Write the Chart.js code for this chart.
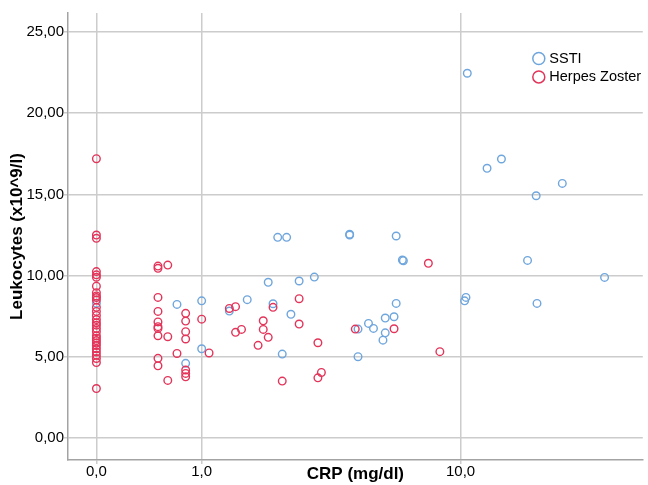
<!DOCTYPE html>
<html>
<head>
<meta charset="utf-8">
<script src="https://cdn.jsdelivr.net/npm/chart.js@4.4.1/dist/chart.umd.min.js"></script>
<style>
  html, body { margin: 0; padding: 0; background: #fff; }
  #scatter { display: block; }
</style>
</head>
<body>
<canvas id="scatter" width="648" height="485"></canvas>
<script>
// CRP (mg/dl) and leukocytes (x10^9/l)
const sstiCrp = [0, 0.7, 0.8, 1.0, 1.0, 1.4, 1.7, 2.1, 2.2, 2.3, 2.5, 2.4, 2.6, 2.8, 3.2,
  4.3, 4.3, 6.2, 6.5, 6.55, 10.4, 10.3, 6.2, 5.7, 6.1, 5.0, 5.2, 4.6, 5.7, 5.6, 4.6,
  10.5, 12.1, 13.4, 17.1, 20.5, 16.1, 17.2, 27.4];
const sstiLeuko = [8.3, 8.23, 4.6, 8.45, 5.5, 7.82, 8.52, 9.59, 8.27, 12.36, 12.36, 5.17, 7.62, 9.67, 9.91,
  12.55, 12.5, 12.44, 10.96, 10.92, 8.66, 8.45, 8.29, 7.39, 7.47, 7.06, 6.75, 6.71, 6.48, 6.03, 5.01,
  22.46, 16.61, 17.18, 14.92, 15.68, 10.94, 8.29, 9.89];

const hzCrp = [0, 0, 0, 0, 0, 0, 0, 0, 0, 0, 0, 0, 0, 0, 0,
  0, 0, 0, 0, 0, 0, 0, 0, 0, 0, 0, 0, 0, 0, 0,
  0.5, 0.5, 0.5, 0.5, 0.5, 0.5, 0.5, 0.5, 0.5, 0.5,
  0.6, 0.6, 0.6, 0.7,
  0.8, 0.8, 0.8, 0.8, 0.8, 0.8, 0.8,
  1.0, 1.1, 1.4, 1.5, 1.5, 1.6, 1.9, 2.0, 2.0, 2.1, 2.2, 2.4, 2.8, 2.8,
  3.3, 3.3, 3.4, 4.5, 6.1, 7.9, 8.6];
const hzLeuko = [17.2, 12.5, 12.3, 10.25, 10.05, 9.9, 9.35, 8.95, 8.75, 8.65, 8.5, 8.05, 7.8, 7.55, 7.3,
  7.1, 6.95, 6.75, 6.55, 6.3, 6.15, 6.0, 5.85, 5.7, 5.5, 5.3, 5.1, 4.9, 4.65, 3.05,
  10.59, 10.45, 8.66, 7.8, 7.15, 6.86, 6.75, 6.3, 4.91, 4.45,
  10.65, 6.24, 3.55, 5.21,
  7.68, 7.2, 6.55, 6.1, 4.19, 3.98, 3.77,
  7.32, 5.24, 7.98, 8.09, 6.51, 6.69, 5.71, 7.22, 6.69, 6.2, 8.05, 3.51, 8.58, 7.02,
  5.87, 3.71, 4.04, 6.71, 6.73, 10.76, 5.32];

const seriesNames = ['SSTI', 'Herpes Zoster'];
const seriesColors = ['#6fa6dd', '#e3345a'];

const xTickValues = [0, 1, 10];
const xTickLabels = ['0,0', '1,0', '10,0'];
const yTickValues = [0, 5, 10, 15, 20, 25];

Chart.defaults.font.family = "'Liberation Sans', Arial, sans-serif";

// x axis is log10(CRP + 1), so 0 can sit on it; min/max stay in CRP units
class Log1pScale extends Chart.LinearScale {
  configure() {
    super.configure();
    this._startValue = Math.log10(this.min + 1);
    this._endValue = Math.log10(this.max + 1);
    this._valueRange = this._endValue - this._startValue;
  }
  getPixelForValue(value) {
    return this.getPixelForDecimal((Math.log10(value + 1) - this._startValue) / this._valueRange);
  }
  getValueForPixel(pixel) {
    return Math.pow(10, this._startValue + this.getDecimalForPixel(pixel) * this._valueRange) - 1;
  }
}
Log1pScale.id = 'log1p';
Log1pScale.defaults = {};
Chart.register(Log1pScale);

function toPoints(xs, ys) {
  return xs.map((x, i) => ({ x: x, y: ys[i] }));
}

// legend sits inside the plot, top right, stacked
const cornerLegend = {
  id: 'cornerLegend',
  afterDraw(chart) {
    const ctx = chart.ctx;
    const x = chart.chartArea.right - 104;
    ctx.save();
    ctx.font = "14.5px 'Liberation Sans', Arial, sans-serif";
    ctx.textBaseline = 'middle';
    ctx.lineWidth = 1.5;
    seriesNames.forEach((name, i) => {
      const y = 58.5 + i * 18.4;
      ctx.beginPath();
      ctx.arc(x, y, 6, 0, Math.PI * 2);
      ctx.strokeStyle = seriesColors[i];
      ctx.stroke();
      ctx.fillStyle = '#000';
      ctx.fillText(name, x + 10.5, y + 0.5);
    });
    ctx.restore();
  }
};

new Chart(document.getElementById('scatter'), {
  type: 'scatter',
  data: {
    datasets: [
      {
        label: seriesNames[0],
        data: toPoints(sstiCrp, sstiLeuko),
        pointBorderColor: seriesColors[0],
        pointBackgroundColor: 'rgba(0,0,0,0)',
        order: 1
      },
      {
        label: seriesNames[1],
        data: toPoints(hzCrp, hzLeuko),
        pointBorderColor: seriesColors[1],
        pointBackgroundColor: 'rgba(0,0,0,0)',
        order: 0
      }
    ]
  },
  options: {
    responsive: false,
    animation: false,
    layout: { padding: { top: 13, right: 3, left: 0, bottom: 0 } },
    elements: { point: { radius: 3.8, hoverRadius: 3.8, borderWidth: 1.4 } },
    plugins: {
      legend: { display: false },
      tooltip: { enabled: false }
    },
    scales: {
      x: {
        type: 'log1p',
        min: -0.1706,
        max: 35.53,
        bounds: 'data',
        afterBuildTicks: s => { s.ticks = xTickValues.map(v => ({ value: v })); },
        afterFit: s => { s.height = 25; },
        ticks: {
          callback: (v, i) => xTickLabels[i],
          font: { size: 15, lineHeight: 1 },
          color: '#000',
          padding: 0,
          maxRotation: 0,
          autoSkip: false
        },
        grid: { color: '#cccccc', lineWidth: 1.5, tickLength: 4 },
        border: { color: '#a3a3a3', width: 1.5 },
        title: {
          display: true,
          text: 'CRP (mg/dl)',
          font: { size: 17, weight: 'bold' },
          color: '#000',
          padding: { top: 0, bottom: 0 }
        }
      },
      y: {
        min: -1.35,
        max: 26.17,
        bounds: 'data',
        afterBuildTicks: s => { s.ticks = yTickValues.map(v => ({ value: v })); },
        afterFit: s => { s.width = 68; },
        ticks: {
          callback: v => v.toFixed(2).replace('.', ','),
          font: { size: 15 },
          color: '#000',
          padding: 0
        },
        grid: { color: '#cccccc', lineWidth: 1.5, tickLength: 4 },
        border: { color: '#a3a3a3', width: 1.5 },
        title: {
          display: true,
          text: 'Leukocytes (x10^9/l)',
          font: { size: 17, weight: 'bold' },
          color: '#000',
          padding: { top: 7, bottom: 0 }
        }
      }
    }
  },
  plugins: [cornerLegend]
});
</script>
</body>
</html>
